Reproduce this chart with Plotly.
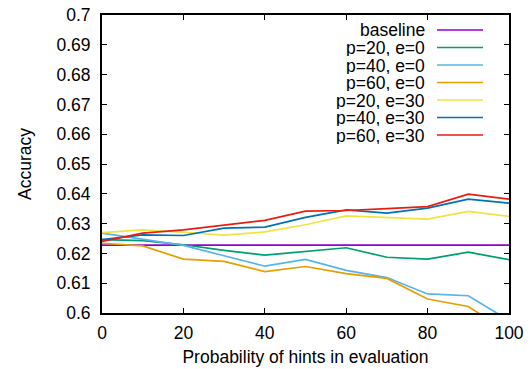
import plotly.graph_objects as go

x_vals = [0, 10, 20, 30, 40, 50, 60, 70, 80, 90, 100]

series_names = ["baseline", "p=20, e=0", "p=40, e=0", "p=60, e=0",
                "p=20, e=30", "p=40, e=30", "p=60, e=30"]
series_colors = ["#9400d3", "#009e73", "#56b4e9", "#e69f00",
                 "#f0e442", "#0072b2", "#e51e10"]

baseline = [0.6228] * 11
p20_e0 = [0.6246, 0.6243, 0.6229, 0.6210, 0.6194, 0.6207, 0.6219, 0.6187, 0.6181, 0.6204, 0.6179]
p40_e0 = [0.6268, 0.6248, 0.6227, 0.6192, 0.6157, 0.6180, 0.6143, 0.6119, 0.6064, 0.6058, 0.5975]
p60_e0 = [0.6234, 0.6225, 0.6181, 0.6173, 0.6139, 0.6156, 0.6132, 0.6116, 0.6047, 0.6022, 0.5934]
p20_e30 = [0.6270, 0.6279, 0.6271, 0.6261, 0.6272, 0.6296, 0.6326, 0.6320, 0.6315, 0.6341, 0.6324]
p40_e30 = [0.6246, 0.6262, 0.6260, 0.6285, 0.6288, 0.6321, 0.6346, 0.6335, 0.6352, 0.6382, 0.6369]
p60_e30 = [0.6240, 0.6268, 0.6279, 0.6296, 0.6311, 0.6342, 0.6344, 0.6350, 0.6357, 0.6399, 0.6382]

series_values = [baseline, p20_e0, p40_e0, p60_e0, p20_e30, p40_e30, p60_e30]

x_ticks = [0, 20, 40, 60, 80, 100]
y_ticks = [0.6, 0.61, 0.62, 0.63, 0.64, 0.65, 0.66, 0.67, 0.68, 0.69, 0.7]
y_tick_labels = ["0.6", "0.61", "0.62", "0.63", "0.64", "0.65", "0.66", "0.67", "0.68", "0.69", "0.7"]

FONT = "Liberation Sans, Arial, sans-serif"
FS = 17.5

fig = go.Figure()
for name, color, vals in zip(series_names, series_colors, series_values):
    fig.add_trace(go.Scatter(x=x_vals, y=vals, mode="lines", name=name,
                             line=dict(color=color, width=1.7), showlegend=False))

# gnuplot-style legend: right-aligned text followed by a line sample
L, R, T, B = 102, 21, 15, 56
W, H = 530 - L - R, 369 - T - B
text_right = (426 - L) / W
line_x0 = (437 - L) / W
line_x1 = (483 - L) / W
for i, (name, color) in enumerate(zip(series_names, series_colors)):
    ypx = 30 + 17.5 * i
    yp = (313 - ypx) / H
    fig.add_annotation(x=text_right, y=yp, xref="paper", yref="paper", text=name,
                       showarrow=False, xanchor="right", yanchor="middle",
                       height=17, borderpad=0,
                       font=dict(family=FONT, size=FS, color="black"))
    fig.add_shape(type="line", xref="paper", yref="paper", x0=line_x0, x1=line_x1,
                  y0=yp, y1=yp, line=dict(color=color, width=1.7))

fig.update_layout(
    width=530, height=369,
    margin=dict(l=L, r=R, t=T, b=B, autoexpand=False),
    paper_bgcolor="white", plot_bgcolor="white",
    font=dict(family=FONT, size=FS, color="black"),
)
fig.update_xaxes(range=[0, 100], tickvals=x_ticks, ticks="inside", ticklen=5,
                 tickwidth=1, tickcolor="black", showline=True, linecolor="black",
                 linewidth=2, mirror="allticks", showgrid=False, zeroline=False,
                 ticklabelstandoff=3, automargin=False,
                 title=dict(text="Probability of hints in evaluation", standoff=9,
                            font=dict(size=FS)))
fig.update_yaxes(range=[0.6, 0.7], tickvals=y_ticks, ticktext=y_tick_labels,
                 ticks="inside", ticklen=5, tickwidth=1, tickcolor="black",
                 showline=True, linecolor="black", linewidth=2, mirror="allticks",
                 showgrid=False, zeroline=False, ticklabelstandoff=6, automargin=False,
                 title=dict(text="Accuracy", standoff=20, font=dict(size=FS)))

fig.write_html(
    "out.html",
    config={"displayModeBar": False},
    post_script="document.body.style.margin='0';document.body.style.overflow='hidden';",
)
